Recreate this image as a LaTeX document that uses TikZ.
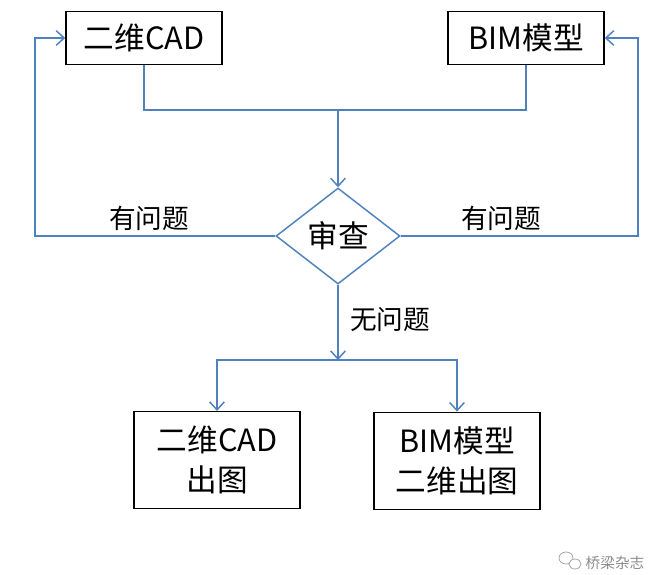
\documentclass[tikz,border=0pt]{standalone}
\usepackage{fontspec}
\setmainfont{Noto Sans CJK SC}
\usetikzlibrary{shapes.geometric,arrows.meta}
\definecolor{linea}{HTML}{4F81BD}
\tikzset{
  caja/.style={draw=black, line width=1.1pt, minimum width=117pt, inner sep=0pt, align=center, font=\fontsize{23}{30}\selectfont},
  rombo/.style={diamond, draw=linea, line width=1.1pt, minimum width=93pt, minimum height=72pt, inner sep=0pt, font=\fontsize{23}{26}\selectfont},
  etiqueta/.style={font=\fontsize{20}{24}\selectfont},
  flujo/.style={draw=linea, line width=1.1pt, >={Straight Barb[length=6pt,width=11pt]}}
}
\begin{document}
\begin{tikzpicture}[x=0.75pt, y=-0.75pt]
  \useasboundingbox (0,0) rectangle (668,575);
  % Nodos
  \node[caja, minimum height=40pt] (cad) at (144,38) {二维CAD};
  \node[caja, minimum height=40pt] (bim) at (526,38) {BIM模型};
  \node[rombo] (rev) at (338,236) {审查};
  \node[caja, minimum width=124.5pt, minimum height=72.5pt] (cadout) at (217,460) {二维CAD\\出图};
  \node[caja, minimum width=124.5pt, minimum height=73pt] (bimout) at (457,461) {BIM模型\\二维出图};
  \coordinate (join) at (338,110);
  \coordinate (split) at (338,360);
  \coordinate (izq) at (35,236);
  \coordinate (der) at (638,236);

  % Flechas
  \draw[flujo] (cad.south) |- (join);
  \draw[flujo] (bim.south) |- (join);
  \draw[flujo,->] (join) -- (rev.north);
  \draw[flujo,->] (rev.west) -- (izq) |- (cad.west);
  \draw[flujo,->] (rev.east) -- (der) |- (bim.east);
  \draw[flujo,->] (rev.south) -- (split);
  \draw[flujo,->] (split) -| (cadout.north);
  \draw[flujo,->] (split) -| (bimout.north);

  % Etiquetas
  \node[etiqueta] (mal1) at (149,218) {有问题};
  \node[etiqueta] (mal2) at (501,218) {有问题};
  \node[etiqueta] (bien) at (390,320) {无问题};

  % Marca
  \draw[black!35, line width=0.6pt] (566,558) ellipse (7 and 6);
  \draw[black!35, line width=0.6pt, fill=white] (575,564) ellipse (6 and 5);
  \node[text=black!45, font=\fontsize{11}{13}\selectfont] (marca) at (615,563) {桥梁杂志};
\end{tikzpicture}
\end{document}
